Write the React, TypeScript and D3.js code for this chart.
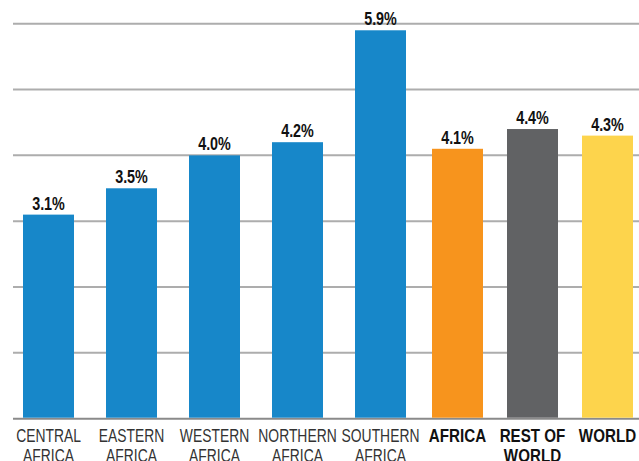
import React from "react";
import * as d3 from "d3";

const regionCats = ["CENTRAL\nAFRICA", "EASTERN\nAFRICA", "WESTERN\nAFRICA", "NORTHERN\nAFRICA", "SOUTHERN\nAFRICA"];
const regionValues = [3.1, 3.5, 4.0, 4.2, 5.9];
const summaryCats = ["AFRICA", "REST OF\nWORLD", "WORLD"];
const summaryValues = [4.1, 4.4, 4.3];
const summaryColors = ["#F7941D", "#616264", "#FDD44C"];
const regionColor = "#1787C9";
const yTicks = [0, 1, 2, 3, 4, 5, 6];

const W = 639;
const H = 461;
const FONT = "'Liberation Sans', Arial, sans-serif";

export default function App() {
  const y = d3.scaleLinear().domain([0, 6]).range([418.7, 23.7]);
  const x1 = d3.scaleBand<string>().domain(regionCats).range([7, 422]).paddingInner(0.3855).paddingOuter(0.19275);
  const x2 = d3.scaleBand<string>().domain(summaryCats).range([420, 645]).paddingInner(0.32).paddingOuter(0.16);

  const bars = [
    ...regionCats.map((c, i) => ({ c, v: regionValues[i], x: x1(c)!, w: x1.bandwidth(), color: regionColor, bold: false })),
    ...summaryCats.map((c, i) => ({ c, v: summaryValues[i], x: x2(c)!, w: x2.bandwidth(), color: summaryColors[i], bold: true })),
  ];

  return (
    <svg width={W} height={H} style={{ position: "absolute", left: 0, top: 0, display: "block" }}>
      <rect width={W} height={H} fill="#fff" />
      {yTicks.map((t) => (
        <line key={t} x1={13} x2={W} y1={y(t)} y2={y(t)} stroke={t === 0 ? "#8a8a8a" : "#adadad"} strokeWidth={2} />
      ))}
      {bars.map((b) => (
        <g key={b.c}>
          <rect x={b.x} y={y(b.v)} width={b.w} height={y(0) - y(b.v) - 1} fill={b.color} />
          <text
            transform={`translate(${b.x + b.w / 2},${y(b.v) - 5}) scale(0.82,1)`}
            textAnchor="middle"
            fontFamily={FONT}
            fontWeight="bold"
            fontSize={17.5}
            fill="#111"
          >
            {d3.format(".1f")(b.v) + "%"}
          </text>
          {b.c.split("\n").map((line, j) => (
            <text
              key={j}
              transform={`translate(${b.x + b.w / 2},${442 + j * 20}) scale(${b.bold ? 0.82 : 0.75},1)`}
              textAnchor="middle"
              fontFamily={FONT}
              fontWeight={b.bold ? "bold" : "normal"}
              fontSize={18.5}
              fill={b.bold ? "#111" : "#333"}
            >
              {line}
            </text>
          ))}
        </g>
      ))}
    </svg>
  );
}
